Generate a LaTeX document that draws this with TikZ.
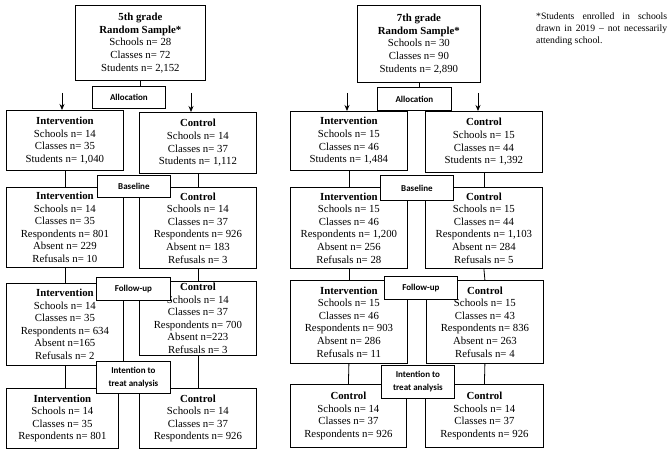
\documentclass[tikz,border=0pt]{standalone}
\usepackage{fontspec}
\setmainfont{Liberation Serif}
\newfontfamily\serif{Liberation Serif}
\newfontfamily\lbl{Carlito}
\usetikzlibrary{arrows.meta,backgrounds}
\tikzset{
 box/.style={draw,thick,fill=white,align=center,anchor=north west,inner sep=1pt,font=\serif\fontsize{10.8}{12.6}\selectfont},
 lab/.style={draw,thick,fill=white,align=center,anchor=north west,inner sep=1pt,font=\lbl\bfseries\fontsize{9}{13}\selectfont},
 con/.style={thick},
 arr/.style={thick,-{Stealth[length=6pt,width=5pt]}}
}
\newcommand{\bx}[6]{\node[box,minimum width=#3pt,minimum height=#4pt] (#5) at (#1,#2) {#6};}
\newcommand{\lb}[6]{\node[lab,minimum width=#3pt,minimum height=#4pt] (#5) at (#1,#2) {#6};}
\begin{document}
\begin{tikzpicture}[x=1pt,y=-1pt]
\useasboundingbox (0,0) rectangle (669,457);
% ---------- left ----------
\bx{75}{5}{130}{75}{t1}{\textbf{5th grade}\\\textbf{Random Sample*}\\Schools n= 28\\Classes n= 72\\Students n= 2,152}
\bx{6}{110}{117}{60}{a1}{\textbf{Intervention}\\Schools n= 14\\Classes n= 35\\Students n= 1,040}
\bx{139}{112}{117}{61}{b1}{\textbf{Control}\\Schools n= 14\\Classes n= 37\\Students n= 1,112}
\bx{6}{187}{117}{80}{a2}{\textbf{Intervention}\\Schools n= 14\\Classes n= 35\\Respondents n= 801\\Absent n= 229\\Refusals n= 10}
\bx{139}{187}{117}{81}{b2}{\textbf{Control}\\Schools n= 14\\Classes n= 37\\Respondents n= 926\\Absent n= 183\\Refusals n= 3}
\bx{6}{283}{117}{82}{a3}{\textbf{Intervention}\\Schools n= 14\\Classes n= 35\\Respondents n= 634\\Absent n=165\\Refusals n= 2}
\bx{139}{281}{117}{74}{b3}{\textbf{Control}\\Schools n= 14\\Classes n= 37\\Respondents n= 700\\Absent n=223\\Refusals n= 3}
\bx{6}{388}{112}{60}{a4}{\textbf{Intervention}\\Schools n= 14\\Classes n= 35\\Respondents n= 801}
\bx{139}{388}{117}{60}{b4}{\textbf{Control}\\Schools n= 14\\Classes n= 37\\Respondents n= 926}
% ---------- right ----------
\bx{357}{5}{123}{77}{t2}{\textbf{7th grade}\\\textbf{Random Sample*}\\Schools n= 30\\Classes n= 90\\Students n= 2,890}
\bx{290}{111}{117}{59}{c1}{\textbf{Intervention}\\Schools n= 15\\Classes n= 46\\Students n= 1,484}
\bx{425}{111}{117}{61}{d1}{\textbf{Control}\\Schools n= 15\\Classes n= 44\\Students n= 1,392}
\bx{290}{187}{117}{81}{c2}{\textbf{Intervention}\\Schools n= 15\\Classes n= 46\\Respondents n= 1,200\\Absent n= 256\\Refusals n= 28}
\bx{425}{187}{117}{81}{d2}{\textbf{Control}\\Schools n= 15\\Classes n= 44\\Respondents n= 1,103\\Absent n= 284\\Refusals n= 5}
\bx{290}{280}{117}{83}{c3}{\textbf{Intervention}\\Schools n= 15\\Classes n= 46\\Respondents n= 903\\Absent n= 286\\Refusals n= 11}
\bx{426}{280}{117}{83}{d3}{\textbf{Control}\\Schools n= 15\\Classes n= 43\\Respondents n= 836\\Absent n= 263\\Refusals n= 4}
\bx{290}{384}{116}{63}{c4}{\textbf{Control}\\Schools n= 14\\Classes n= 37\\Respondents n= 926}
\bx{425}{384}{118}{63}{d4}{\textbf{Control}\\Schools n= 14\\Classes n= 37\\Respondents n= 926}
\coordinate (p1) at (62,93); \coordinate (q1) at (191,93);
\coordinate (p2) at (347,93); \coordinate (q2) at (478,93);
% stage labels
\lb{92}{86}{73}{22}{al1}{Allocation}
\lb{97}{175}{73}{22}{bl1}{Baseline}
\lb{96}{277}{74}{23}{fu1}{Follow-up}
\lb{96}{361}{74}{32}{it1}{Intention to\\treat analysis}
\lb{377}{87}{74}{23}{al2}{Allocation}
\lb{380}{175}{73}{25}{bl2}{Baseline}
\lb{384}{276}{73}{23}{fu2}{Follow-up}
\lb{381}{365}{73}{33}{it2}{Intention to\\treat analysis}
\draw[arr] (p1) -- (p1 |- a1.north);
\draw[arr] (q1) -- (q1 |- b1.north);
\draw[arr] (p2) -- (p2 |- c1.north);
\draw[arr] (q2) -- (q2 |- d1.north);
\begin{pgfonlayer}{background}
\draw[con] (t1.south) -- (al1.north -| t1.south);
\draw[con] (t2.south) -- (al2.north -| t2.south);
\draw[con] (a1.south) -- (a2.north);
\draw[con] (b1.south) -- (b2.north);
\draw[con] (a2.south) -- (a3.north);
\draw[con] (b2.south) -- (b3.north);
\draw[con] (a3.south) -- (a3.south |- a4.north);
\draw[con] (b3.south) -- (b4.north);
\draw[con] (c1.south) -- (c2.north);
\draw[con] (d1.south) -- (d2.north);
\draw[con] (c2.south) -- (c3.north);
\draw[con] (d2.south) -- (d3.north);
\draw[con] (c3.south) -- (c4.north);
\draw[con] (d3.south) -- (d4.north);
\end{pgfonlayer}
\node[anchor=north west,align=justify,text width=131pt,inner sep=0pt,font=\serif\fontsize{9.7}{12}\selectfont] (note) at (536,13) {*Students enrolled in schools drawn in 2019 – not necessarily attending school.};
\end{tikzpicture}
\end{document}
